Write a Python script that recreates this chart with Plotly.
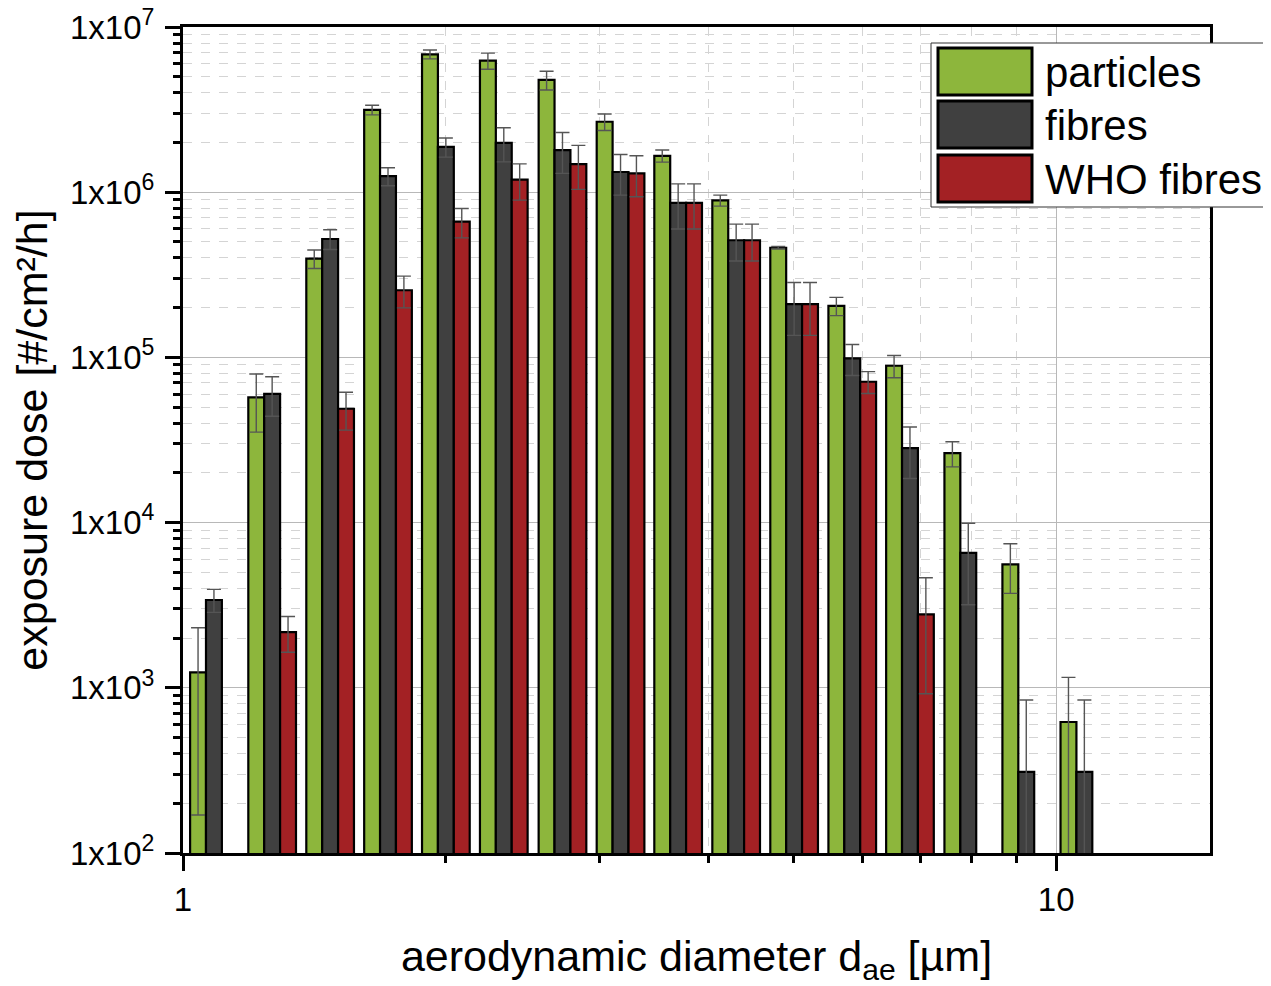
import numpy as np
import plotly.graph_objects as go

# ---- data ----
diameters = [1.085, 1.265, 1.474, 1.717, 2.00, 2.33, 2.72, 3.17, 3.69, 4.30, 5.01, 5.84, 6.80, 7.93, 9.24, 10.77]

particles = [1240, 57300, 396000, 3150000, 6830000, 6250000, 4780000, 2670000, 1660000, 892000,
             461000, 205000, 89000, 26300, 5590, 621]
particles_err = [1070, 22000, 51000, 210000, 420000, 700000, 620000, 305000, 140000, 68000,
                 8000, 26000, 13700, 4550, 1860, 535]

fibres = [3400, 60200, 521000, 1250000, 1880000, 1990000, 1800000, 1325000, 861000, 512000,
          210000, 98700, 28200, 6550, 310, 310]
fibres_err = [540, 16200, 71000, 155000, 250000, 465000, 500000, 365000, 262000, 129000,
              74000, 21000, 9700, 3370, 534, 534]

who_fibres = [None, 2170, 48900, 255000, 663000, 1190000, 1480000, 1300000, 861000, 512000,
              210000, 71200, 2780, None, None, None]
who_fibres_err = [None, 530, 12600, 55500, 134000, 295000, 440000, 362000, 262000, 129000,
                  74000, 10800, 1860, None, None, None]

series_names = ["particles", "fibres", "WHO fibres"]
series_colors = ["#8DB63C", "#404040", "#A32124"]

x_major_vals = [1, 10]
x_minor_vals = [2, 3, 4, 5, 6, 7, 8, 9]
x_max = 15
y_exponents = [2, 3, 4, 5, 6, 7]

# ---- figure ----
FONT = "Liberation Sans, Arial, sans-serif"
xpos = np.log10(diameters)

fig = go.Figure()
for name, vals, errs, col in zip(series_names,
                                 [particles, fibres, who_fibres],
                                 [particles_err, fibres_err, who_fibres_err],
                                 series_colors):
    fig.add_trace(go.Bar(
        x=xpos, y=vals, name=name, showlegend=False,
        marker=dict(color=col, line=dict(color="black", width=2.2)),
        error_y=dict(type="data", array=errs, symmetric=True, visible=True,
                     color="#555555", thickness=1.4, width=7),
    ))

y_minor = [k * 10 ** e for e in y_exponents[:-1] for k in range(2, 10)]

# page body adds an 8px offset; margins compensate so the plot area lands at 183..1210 x 27..853
fig.update_layout(
    width=1263, height=978,
    margin=dict(l=175, r=61, t=19, b=133),
    paper_bgcolor="white", plot_bgcolor="white",
    barmode="group", bargap=10 / 58, bargroupgap=0,
    font=dict(family=FONT, color="black"),
    xaxis=dict(
        range=[0, np.log10(x_max)], automargin=False,
        tickvals=np.log10(x_major_vals), ticktext=[str(v) for v in x_major_vals],
        ticks="outside", ticklen=15, tickwidth=3, tickcolor="black",
        tickfont=dict(size=33, family=FONT), ticklabeloverflow="allow",
        showline=True, linewidth=3, linecolor="black", mirror=True,
        showgrid=True, gridcolor="#b8b8b8", gridwidth=1.2, zeroline=False,
        minor=dict(tickvals=np.log10(x_minor_vals), ticks="outside", ticklen=7,
                   tickwidth=2.5, tickcolor="black", showgrid=True,
                   gridcolor="#d4d4d4", gridwidth=1, griddash="dash"),
        title=dict(text="aerodynamic diameter d<sub>ae</sub> [µm]",
                   font=dict(size=43, family=FONT), standoff=32),
    ),
    yaxis=dict(
        type="log", range=[2, 7], automargin=False,
        tickvals=[10 ** e for e in y_exponents],
        ticktext=["1x10<sup>%d</sup>" % e for e in y_exponents],
        ticks="outside", ticklen=15, tickwidth=3, tickcolor="black",
        tickfont=dict(size=33, family=FONT), ticklabelstandoff=4,
        ticklabeloverflow="allow",
        showline=True, linewidth=3, linecolor="black", mirror=True,
        showgrid=True, gridcolor="#b8b8b8", gridwidth=1.2, zeroline=False,
        minor=dict(tickvals=y_minor, ticks="outside", ticklen=7,
                   tickwidth=2.5, tickcolor="black", showgrid=True,
                   gridcolor="#d4d4d4", gridwidth=1, griddash="dash"),
        title=dict(text="exposure dose [#/cm²/h]",
                   font=dict(size=43, family=FONT), standoff=10),
    ),
)

# ---- legend (drawn as layout shapes + text so swatches match the reference size) ----
W, H, L, T = 1027.0, 826.0, 183.0, 27.0
def px_x(px):
    return (px - L) / W
def px_y(py):
    return (T + H - py) / H

fig.add_shape(type="rect", xref="paper", yref="paper",
              x0=px_x(931), x1=px_x(1280), y0=px_y(207), y1=px_y(43),
              line=dict(color="#333333", width=1), fillcolor="white", layer="above")
sw_tops = [48, 101, 155]
for top, name, col in zip(sw_tops, series_names, series_colors):
    fig.add_shape(type="rect", xref="paper", yref="paper",
                  x0=px_x(938), x1=px_x(1032), y0=px_y(top + 47), y1=px_y(top),
                  line=dict(color="black", width=3), fillcolor=col, layer="above")
    fig.add_annotation(xref="paper", yref="paper", x=px_x(1043), y=px_y(top + 24),
                       text=name, showarrow=False, xanchor="left", yanchor="middle",
                       font=dict(size=42, family=FONT, color="black"))

fig.write_html("out.html")
